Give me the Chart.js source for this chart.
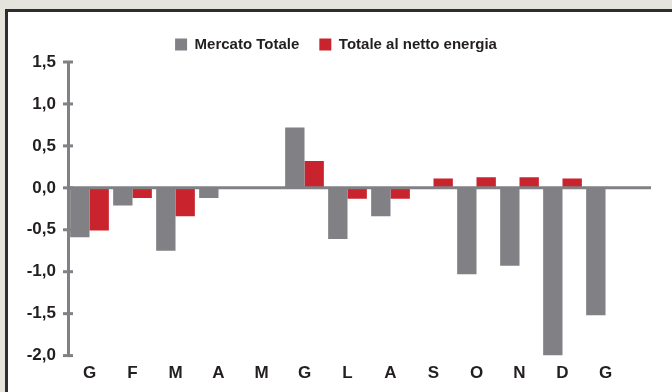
<!DOCTYPE html>
<html lang="it">
<head>
    <meta charset="UTF-8">
    <title>Mercato Totale</title>
    <script src="https://cdn.jsdelivr.net/npm/chart.js"></script>
    <style>
        html, body { margin: 0; padding: 0; }
        body { width: 672px; height: 392px; background: #e5e4dc; position: relative; overflow: hidden; }
        #panel { position: absolute; left: 5px; top: 9px; width: 700px; height: 420px; background: #fff; border: 3px solid #2e2e2e; }
        #wrap { position: absolute; left: 0; top: 0; width: 672px; height: 392px; }
    </style>
</head>
<body>
    <div id="panel"></div>
    <div id="wrap"><canvas id="barChart"></canvas></div>

    <script>
        const months = ['G', 'F', 'M', 'A', 'M', 'G', 'L', 'A', 'S', 'O', 'N', 'D', 'G'];
        const mercatoTotale = [-0.59, -0.21, -0.75, -0.12, 0, 0.72, -0.61, -0.34, 0, -1.03, -0.93, -2.0, -1.52];
        const nettoEnergia = [-0.51, -0.12, -0.34, 0, 0, 0.32, -0.13, -0.13, 0.11, 0.125, 0.125, 0.11, 0];
        const yTicks = [1.5, 1.0, 0.5, 0.0, -0.5, -1.0, -1.5, -2.0];

        const grey = '#808085';
        const red = '#c9232d';
        const ink = '#231f20';

        // zero line (runs past the last month) and the tick marks across the y axis
        const axisMarks = {
            id: 'axisMarks',
            afterDatasetsDraw(chart) {
                const ctx = chart.ctx;
                const area = chart.chartArea;
                const y = chart.scales.y;
                ctx.save();
                ctx.strokeStyle = grey;
                ctx.lineWidth = 3;
                const y0 = y.getPixelForValue(0);
                ctx.beginPath();
                ctx.moveTo(area.left, y0);
                ctx.lineTo(area.right + 24, y0);
                ctx.stroke();
                yTicks.forEach(v => {
                    const py = y.getPixelForValue(v);
                    ctx.beginPath();
                    ctx.moveTo(area.left - 5, py);
                    ctx.lineTo(area.left + 5, py);
                    ctx.stroke();
                });
                ctx.restore();
            }
        };

        const ctx = document.getElementById('barChart').getContext('2d');
        const chart = new Chart(ctx, {
            type: 'bar',
            data: {
                labels: months,
                datasets: [{
                    label: 'Mercato Totale',
                    data: mercatoTotale,
                    backgroundColor: grey
                }, {
                    label: 'Totale al netto energia',
                    data: nettoEnergia,
                    backgroundColor: red
                }]
            },
            options: {
                responsive: true,
                maintainAspectRatio: false,
                animation: false,
                layout: { padding: { top: 17, right: 0, bottom: 0, left: 0 } },
                datasets: { bar: { categoryPercentage: 0.9, barPercentage: 1.0 } },
                plugins: {
                    legend: {
                        position: 'top',
                        labels: {
                            boxWidth: 12,
                            boxHeight: 12,
                            padding: 20,
                            color: ink,
                            font: { family: 'Liberation Sans', size: 15, weight: 'bold' }
                        }
                    },
                    tooltip: { enabled: false }
                },
                scales: {
                    x: {
                        grid: { display: false, drawTicks: false },
                        border: { display: false },
                        ticks: {
                            color: ink,
                            padding: 8,
                            font: { family: 'Liberation Sans', size: 17, weight: 'bold' }
                        }
                    },
                    y: {
                        min: -2,
                        max: 1.5,
                        afterFit(scale) { scale.width = 68; },
                        afterBuildTicks(scale) { scale.ticks = yTicks.map(v => ({ value: v })); },
                        grid: { display: true, drawOnChartArea: false, drawTicks: false, color: 'rgba(0,0,0,0)' },
                        border: { display: true, color: grey, width: 3 },
                        ticks: {
                            color: ink,
                            padding: 12,
                            font: { family: 'Liberation Sans', size: 17, weight: 'bold' },
                            callback: v => v.toFixed(1).replace('.', ',')
                        }
                    },
                    // empty right-hand axis that keeps room for the zero line to run on
                    yRight: {
                        position: 'right',
                        afterFit(scale) { scale.width = 45; },
                        grid: { display: false, drawTicks: false },
                        border: { display: false },
                        ticks: { display: false }
                    }
                }
            },
            plugins: [axisMarks]
        });
    </script>
</body>
</html>
